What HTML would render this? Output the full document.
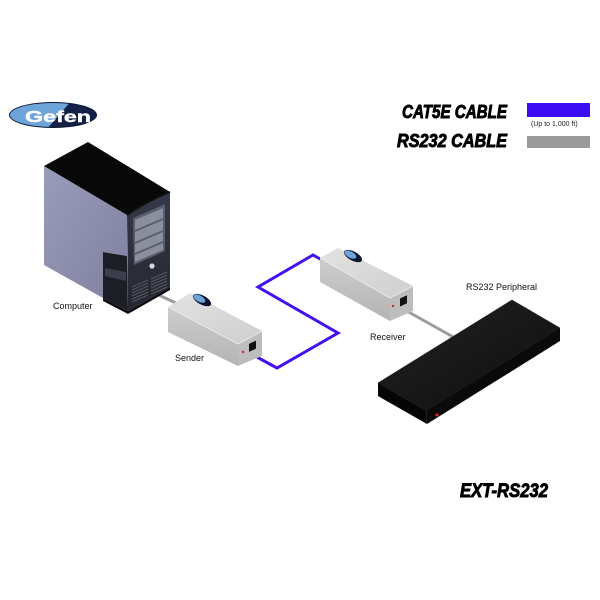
<!DOCTYPE html>
<html>
<head>
<meta charset="utf-8">
<style>
html,body{margin:0;padding:0;background:#fff;}
svg{display:block;}
text{font-family:"Liberation Sans",sans-serif;}
</style>
</head>
<body>
<svg width="600" height="600" viewBox="0 0 600 600" xmlns="http://www.w3.org/2000/svg">
<defs>
<linearGradient id="lf" x1="0" y1="0" x2="1" y2="1">
<stop offset="0" stop-color="#9a9cbb"/><stop offset="1" stop-color="#7f819e"/>
</linearGradient>
<linearGradient id="fr" x1="0" y1="0" x2="0" y2="1">
<stop offset="0" stop-color="#353848"/><stop offset="1" stop-color="#25272f"/>
</linearGradient>
<linearGradient id="bt" x1="0" y1="0" x2="1" y2="1">
<stop offset="0" stop-color="#e2e2e2"/><stop offset="1" stop-color="#cfcfcf"/>
</linearGradient>
<linearGradient id="bs" x1="0" y1="0" x2="0" y2="1">
<stop offset="0" stop-color="#cdcdcd"/><stop offset="1" stop-color="#b4b4b4"/>
</linearGradient>
<linearGradient id="pt" x1="0" y1="0" x2="1" y2="1">
<stop offset="0" stop-color="#222"/><stop offset="1" stop-color="#0e0e0e"/>
</linearGradient>
<clipPath id="lg"><ellipse cx="53" cy="115" rx="43" ry="12"/></clipPath>
</defs>

<!-- Gefen logo -->
<ellipse cx="53" cy="115" rx="44" ry="13" fill="#0b1430"/>
<g clip-path="url(#lg)">
<rect x="8" y="100" width="90" height="30" fill="#152048"/>
<polygon points="8,100 72,100 46,130 8,130" fill="#6da4dc"/>
</g>
<text x="25" y="122" font-size="16" font-weight="bold" fill="#fff" stroke="#fff" stroke-width="0.4" textLength="66" lengthAdjust="spacingAndGlyphs">Gefen</text>

<!-- Legend -->
<text x="402" y="118" font-size="18" font-weight="bold" font-style="italic" fill="#000" stroke="#000" stroke-width="0.9" textLength="105" lengthAdjust="spacingAndGlyphs">CAT5E CABLE</text>
<rect x="527" y="103" width="63" height="14" fill="#3c0cf2"/>
<text x="531" y="126" font-size="7" fill="#222">(Up to 1,000 ft)</text>
<text x="397" y="147" font-size="18" font-weight="bold" font-style="italic" fill="#000" stroke="#000" stroke-width="0.9" textLength="110" lengthAdjust="spacingAndGlyphs">RS232 CABLE</text>
<rect x="527" y="136" width="63" height="12" fill="#9a9a9a"/>

<!-- cables -->
<line x1="150" y1="291" x2="178" y2="304" stroke="#9c9c9c" stroke-width="3"/>
<line x1="405" y1="310" x2="455" y2="338" stroke="#9c9c9c" stroke-width="3"/>
<polyline points="255,356 277,368 338,333 258,287 313,255 322,260" fill="none" stroke="#4410ee" stroke-width="3" stroke-linejoin="miter"/>

<!-- Computer tower -->
<polygon points="44,166 127,215 127,256 103,252 103,298 44,265" fill="url(#lf)"/>
<polygon points="44,166 88,142 170,192 127,215" fill="#080808"/>
<polygon points="127,215 170,192 170,287 128,311" fill="url(#fr)"/>
<path d="M127,215 Q150,200 170,192" fill="none" stroke="#111" stroke-width="2"/>
<polygon points="103,252 127,256 128,311 103,298" fill="#1c1e26"/>
<polygon points="105,268 126,272 126,281 105,276" fill="#3b3e4d"/>
<polygon points="103,298 128,311 170,287 170,290 128,314 103,301" fill="#0e0e12"/>
<!-- drive bays -->
<polygon points="133,218 165,204 165,251 134,265" fill="#5a5d6c"/>
<polygon points="135,220 163,208 163,218 135,230" fill="#8b8e9c"/>
<polygon points="135,232 163,220 163,230 135,242" fill="#8b8e9c"/>
<polygon points="135,244 163,232 163,241 135,253" fill="#8b8e9c"/>
<polygon points="135,255 163,243 163,250 135,262" fill="#8b8e9c"/>
<circle cx="152" cy="266" r="2.6" fill="#d8d8e0"/>
<g stroke="#60636f" stroke-width="0.8">
<line x1="132" y1="287" x2="148" y2="280"/><line x1="132" y1="290" x2="148" y2="283"/>
<line x1="132" y1="293" x2="148" y2="286"/><line x1="132" y1="296" x2="148" y2="289"/>
<line x1="132" y1="299" x2="148" y2="292"/><line x1="132" y1="302" x2="148" y2="295"/>
<line x1="151" y1="279" x2="167" y2="272"/><line x1="151" y1="282" x2="167" y2="275"/>
<line x1="151" y1="285" x2="167" y2="278"/><line x1="151" y1="288" x2="167" y2="281"/>
<line x1="151" y1="291" x2="167" y2="284"/><line x1="151" y1="294" x2="167" y2="287"/>
</g>

<!-- Sender -->
<polygon points="168,307 190,293 262,331 238,344" fill="url(#bt)"/>
<polygon points="168,307 238,344 238,366 168,332" fill="url(#bs)"/>
<polygon points="238,344 262,331 262,356 238,366" fill="#bdbdbd"/>
<polyline points="168,307 238,344 262,331" fill="none" stroke="#eee" stroke-width="0.8"/>
<rect x="249" y="344" width="7" height="8" fill="#111" transform="skewY(-25) translate(0,116)"/>
<circle cx="243" cy="352" r="1.2" fill="#d22"/>
<g transform="rotate(28 202 300)">
<ellipse cx="202" cy="300" rx="10" ry="4.5" fill="#0c1530"/>
<ellipse cx="199" cy="300" rx="6.5" ry="3.2" fill="#6da4dc"/>
</g>

<!-- Receiver -->
<polygon points="320,258 338,248 413,286 390,298" fill="url(#bt)"/>
<polygon points="320,258 390,298 390,321 320,282" fill="url(#bs)"/>
<polygon points="390,298 413,286 413,311 390,321" fill="#bdbdbd"/>
<polyline points="320,258 390,298 413,286" fill="none" stroke="#eee" stroke-width="0.8"/>
<rect x="400" y="298" width="7" height="8" fill="#111" transform="skewY(-25) translate(0,187)"/>
<circle cx="393" cy="306" r="1.2" fill="#d22"/>
<g transform="rotate(28 353 256)">
<ellipse cx="353" cy="256" rx="10" ry="4.5" fill="#0c1530"/>
<ellipse cx="350" cy="256" rx="6.5" ry="3.2" fill="#6da4dc"/>
</g>

<!-- RS232 peripheral -->
<polygon points="378,383 512,300 560,328 426,411" fill="url(#pt)" stroke="#2a2a2a" stroke-width="0.6" stroke-linejoin="round"/>
<polygon points="378,383 426,411 427,424 378,396" fill="#050505"/>
<polygon points="426,411 560,328 560,341 427,424" fill="#0a0a0a"/>
<circle cx="437" cy="415" r="1.5" fill="#e22"/>

<!-- labels -->
<text x="53" y="309" font-size="9" fill="#111">Computer</text>
<text x="175" y="361" font-size="9" fill="#111">Sender</text>
<text x="370" y="340" font-size="9" fill="#111">Receiver</text>
<text x="466" y="290" font-size="9" fill="#111">RS232 Peripheral</text>

<text x="460" y="497" font-size="19" font-weight="bold" font-style="italic" fill="#000" stroke="#000" stroke-width="0.9" textLength="88" lengthAdjust="spacingAndGlyphs">EXT-RS232</text>
</svg>
</body>
</html>
